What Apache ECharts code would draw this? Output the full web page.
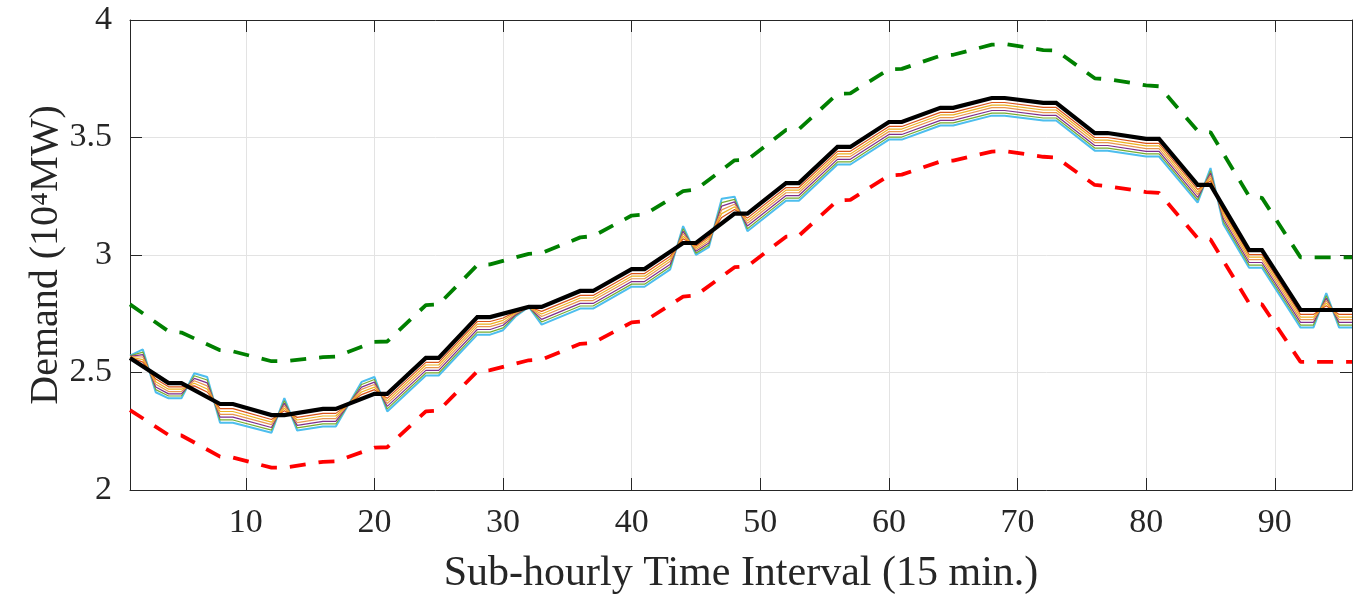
<!DOCTYPE html>
<html>
<head>
<meta charset="utf-8">
<script src="https://cdn.jsdelivr.net/npm/echarts@6/dist/echarts.min.js"></script>
<style>html,body{margin:0;padding:0;background:#fff}#c{width:1365px;height:595px}</style>
</head>
<body>
<div id="c"></div>
<script>
// ---- tick labels ----
const xTickValues = [10, 20, 30, 40, 50, 60, 70, 80, 90];
const yTickValues = [2, 2.5, 3, 3.5, 4];

// ---- knot positions (sub-hourly intervals) of the main / bound curves ----
const knotX = [1,4,5,8,9,12,13,16,17,20,21,24,25,28,29,32,33,36,37,40,41,44,45,48,49,52,53,56,57,60,61,64,65,68,69,72,73,76,77,80,81,84,85,88,89,92,93,96];

// forecast demand (black)
const demandForecast = [2.562,2.455,2.455,2.366,2.366,2.319,2.319,2.345,2.345,2.409,2.409,2.562,2.562,2.736,2.736,2.779,2.779,2.847,2.847,2.940,2.940,3.051,3.051,3.176,3.176,3.306,3.306,3.460,3.460,3.566,3.566,3.626,3.626,3.668,3.668,3.647,3.647,3.519,3.519,3.494,3.494,3.298,3.298,3.021,3.021,2.766,2.766,2.766];
// upper bound (green dashed)
const upperBound = [2.790,2.675,2.670,2.595,2.590,2.548,2.548,2.565,2.568,2.630,2.632,2.787,2.790,2.957,2.960,3.005,3.008,3.075,3.080,3.168,3.172,3.272,3.278,3.403,3.405,3.532,3.535,3.686,3.688,3.790,3.792,3.848,3.852,3.895,3.898,3.872,3.870,3.752,3.748,3.722,3.718,3.528,3.522,3.250,3.243,2.990,2.990,2.990];
// lower bound (red dashed)
const lowerBound = [2.340,2.234,2.232,2.142,2.138,2.095,2.095,2.120,2.122,2.180,2.182,2.335,2.338,2.505,2.510,2.552,2.555,2.622,2.626,2.713,2.718,2.823,2.828,2.948,2.952,3.078,3.082,3.232,3.235,3.338,3.342,3.398,3.402,3.440,3.442,3.418,3.415,3.298,3.293,3.268,3.264,3.072,3.066,2.795,2.790,2.545,2.545,2.545];

// ---- knot positions of the scenario curves ----
const scenarioX = [1,2,3,4,5,6,7,8,9,12,13,14,16,17,19,20,21,24,25,28,29,30,31,32,33,36,37,40,41,43,44,45,46,47,48,49,52,53,56,57,60,61,64,65,68,69,72,73,76,77,80,81,84,85,86,88,89,92,93,94,95,96];
const scenario1 = [2.565,2.544,2.472,2.439,2.439,2.443,2.417,2.346,2.346,2.300,2.337,2.309,2.326,2.326,2.406,2.427,2.390,2.543,2.543,2.717,2.717,2.732,2.759,2.779,2.760,2.828,2.828,2.921,2.921,2.995,3.069,3.038,3.078,3.160,3.194,3.157,3.287,3.287,3.441,3.441,3.547,3.547,3.607,3.607,3.649,3.649,3.628,3.628,3.500,3.500,3.475,3.475,3.279,3.316,3.187,3.002,3.002,2.747,2.747,2.784,2.747,2.747];
const scenario2 = [2.566,2.555,2.461,2.429,2.429,2.454,2.430,2.334,2.334,2.289,2.348,2.298,2.315,2.315,2.417,2.438,2.379,2.532,2.532,2.706,2.706,2.722,2.755,2.779,2.749,2.817,2.817,2.910,2.910,2.984,3.080,3.031,3.069,3.176,3.205,3.146,3.276,3.276,3.430,3.430,3.536,3.536,3.596,3.596,3.638,3.638,3.617,3.617,3.489,3.489,3.464,3.464,3.268,3.327,3.176,2.991,2.991,2.736,2.736,2.795,2.736,2.736];
const scenario3 = [2.568,2.566,2.450,2.419,2.419,2.465,2.443,2.322,2.322,2.278,2.359,2.287,2.304,2.304,2.428,2.449,2.368,2.521,2.521,2.695,2.695,2.711,2.751,2.779,2.738,2.806,2.806,2.899,2.899,2.973,3.091,3.023,3.060,3.192,3.216,3.135,3.265,3.265,3.419,3.419,3.525,3.525,3.585,3.585,3.627,3.627,3.606,3.606,3.478,3.478,3.453,3.453,3.257,3.338,3.165,2.980,2.980,2.725,2.725,2.806,2.725,2.725];
const scenario4 = [2.569,2.576,2.438,2.409,2.409,2.475,2.456,2.310,2.310,2.266,2.369,2.275,2.292,2.292,2.438,2.459,2.356,2.509,2.509,2.683,2.683,2.701,2.747,2.779,2.726,2.794,2.794,2.887,2.887,2.961,3.101,3.016,3.051,3.208,3.226,3.123,3.253,3.253,3.407,3.407,3.513,3.513,3.573,3.573,3.615,3.615,3.594,3.594,3.466,3.466,3.441,3.441,3.245,3.348,3.153,2.968,2.968,2.713,2.713,2.816,2.713,2.713];
const scenario5 = [2.571,2.587,2.427,2.400,2.400,2.486,2.468,2.298,2.298,2.255,2.380,2.264,2.281,2.281,2.449,2.470,2.345,2.498,2.498,2.672,2.672,2.690,2.744,2.779,2.715,2.783,2.783,2.876,2.876,2.950,3.112,3.008,3.042,3.223,3.237,3.112,3.242,3.242,3.396,3.396,3.502,3.502,3.562,3.562,3.604,3.604,3.583,3.583,3.455,3.455,3.430,3.430,3.234,3.359,3.142,2.957,2.957,2.702,2.702,2.827,2.702,2.702];
const scenario6 = [2.572,2.598,2.416,2.390,2.390,2.497,2.481,2.286,2.286,2.244,2.391,2.253,2.270,2.270,2.460,2.481,2.334,2.487,2.487,2.661,2.661,2.680,2.740,2.779,2.704,2.772,2.772,2.865,2.865,2.939,3.123,3.001,3.033,3.239,3.248,3.101,3.231,3.231,3.385,3.385,3.491,3.491,3.551,3.551,3.593,3.593,3.572,3.572,3.444,3.444,3.419,3.419,3.223,3.370,3.131,2.946,2.946,2.691,2.691,2.838,2.691,2.691];

// ---- build ----
const pair = (xs, ys) => xs.map((x, i) => [x, ys[i]]);
const AX = '#262626';
const FONT = '"Liberation Serif", "Times New Roman", serif';

const scenarioList = [
  { d: scenario6, c: '#4DBEEE', w: 2.0 },
  { d: scenario5, c: '#77AC30', w: 1.2 },
  { d: scenario4, c: '#7E2F8E', w: 1.2 },
  { d: scenario3, c: '#E8964F', w: 1.2 },
  { d: scenario2, c: '#EDB120', w: 1.2 },
  { d: scenario1, c: '#D95319', w: 1.2 }
];

const series = scenarioList.map(s => ({
  type: 'line', xAxisIndex: 0, yAxisIndex: 0, symbol: 'none', silent: true,
  data: pair(scenarioX, s.d), lineStyle: { color: s.c, width: s.w }, z: 2
}));
series.push({
  type: 'line', symbol: 'none', silent: true, data: pair(knotX, upperBound),
  lineStyle: { color: '#008000', width: 3.8, type: [16, 13], cap: 'butt' }, z: 3
});
series.push({
  type: 'line', symbol: 'none', silent: true, data: pair(knotX, lowerBound),
  lineStyle: { color: '#FF0000', width: 3.8, type: [16, 13], cap: 'butt' }, z: 3
});
series.push({
  type: 'line', symbol: 'none', silent: true, data: pair(knotX, demandForecast),
  lineStyle: { color: '#000000', width: 4.2, join: 'miter' }, z: 4
});

const chart = echarts.init(document.getElementById('c'), null, { renderer: 'canvas' });
chart.setOption({
  animation: false,
  backgroundColor: '#ffffff',
  grid: { left: 130, right: 13, top: 20, bottom: 105, containLabel: false, outerBoundsMode: 'none' },
  xAxis: [{
    type: 'value', min: 1, max: 96, position: 'bottom',
    name: 'Sub-hourly Time Interval (15 min.)', nameLocation: 'middle', nameGap: 63, nameMoveOverlap: false,
    nameTextStyle: { fontFamily: FONT, fontSize: 42, color: AX },
    axisLine: { show: true, onZero: false, lineStyle: { color: AX, width: 1 } },
    axisTick: { show: true, inside: true, length: 12, customValues: xTickValues, lineStyle: { color: AX, width: 1 } },
    axisLabel: { show: true, customValues: xTickValues, margin: 16, fontFamily: FONT, fontSize: 34, color: AX },
    splitLine: { show: true, lineStyle: { color: '#e3e3e3', width: 1 } }
  }, {
    type: 'value', min: 1, max: 96, position: 'top',
    axisLine: { show: true, onZero: false, lineStyle: { color: AX, width: 1 } },
    axisTick: { show: true, inside: true, length: 12, customValues: xTickValues, lineStyle: { color: AX, width: 1 } },
    axisLabel: { show: false }, splitLine: { show: false }
  }],
  yAxis: [{
    type: 'value', min: 2, max: 4, interval: 0.5, position: 'left',
    name: 'Demand (10⁴MW)', nameLocation: 'middle', nameGap: 64, nameRotate: 90, nameMoveOverlap: false,
    nameTextStyle: { fontFamily: FONT, fontSize: 40, color: AX },
    axisLine: { show: true, onZero: false, lineStyle: { color: AX, width: 1 } },
    axisTick: { show: true, inside: true, length: 12, lineStyle: { color: AX, width: 1 } },
    axisLabel: { show: true, margin: 18, fontFamily: FONT, fontSize: 34, color: AX },
    splitLine: { show: true, lineStyle: { color: '#e3e3e3', width: 1 } }
  }, {
    type: 'value', min: 2, max: 4, interval: 0.5, position: 'right',
    axisLine: { show: true, onZero: false, lineStyle: { color: AX, width: 1 } },
    axisTick: { show: true, inside: true, length: 12, lineStyle: { color: AX, width: 1 } },
    axisLabel: { show: false }, splitLine: { show: false }
  }],
  series: series
});
</script>
</body>
</html>
